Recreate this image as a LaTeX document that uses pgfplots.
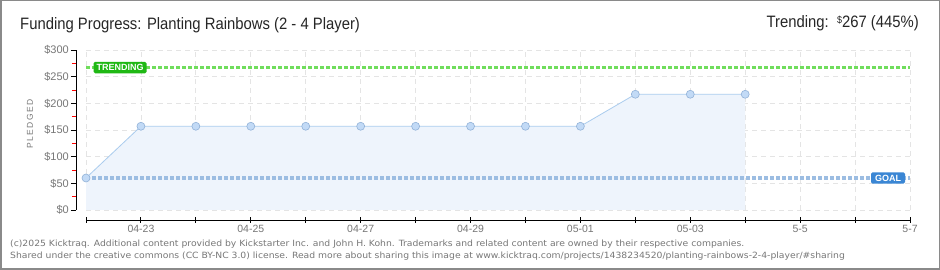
\documentclass[border=0pt]{standalone}
\usepackage{pgfplots}
\pgfplotsset{compat=1.18}
\usepackage{fontspec}
\setmainfont{Liberation Sans}
\newfontfamily\narrow[FakeStretch=0.9]{Liberation Sans}
\newfontfamily\foot[FakeStretch=1.075]{DejaVu Sans}
\definecolor{bordergray}{HTML}{8A8A8A}
\definecolor{gridc}{HTML}{E4E4E4}
\definecolor{areafill}{HTML}{EEF4FC}
\definecolor{linec}{HTML}{AACCEE}
\definecolor{markfill}{HTML}{C2DAF6}
\definecolor{markdraw}{HTML}{92B2D8}
\definecolor{trendc}{HTML}{70DD5C}
\definecolor{trendbox}{HTML}{1FB814}
\definecolor{goalc}{HTML}{9CBDE2}
\definecolor{goalbox}{HTML}{3A86D4}
\definecolor{labelgray}{HTML}{777777}
\definecolor{footgray}{HTML}{777777}
\begin{document}
\begin{tikzpicture}
\useasboundingbox (0,0) rectangle (940pt,270pt);
\fill[white] (0,0) rectangle (940pt,270pt);
\draw[bordergray, line width=1.5pt] (0.75pt,0.75pt) rectangle (939.25pt,269.25pt);

\begin{axis}[at={(86pt,60pt)}, anchor=south west, scale only axis,
  width=824pt, height=160pt, xmin=0, xmax=15, ymin=0, ymax=300,
  axis line style={draw=none}, major tick length=0pt,
  xtick={0,...,15}, ytick={0,50,...,300}, xticklabels={}, yticklabels={},
  grid=major, major grid style={gridc, line width=0.8pt, dash pattern=on 5pt off 4pt},
  clip=false]
\addplot[fill=areafill, draw=none] coordinates {
 (0,60) (1,157) (2,157) (3,157) (4,157) (5,157) (6,157) (7,157) (8,157) (9,157)
 (10,217) (11,217) (12,217)} \closedcycle;
\addplot[linec, line width=0.8pt] coordinates {
 (0,60) (1,157) (2,157) (3,157) (4,157) (5,157) (6,157) (7,157) (8,157) (9,157)
 (10,217) (11,217) (12,217)};
\addplot[trendc, line width=3.5pt, dash pattern=on 4pt off 2pt] coordinates {(0,267) (15,267)};
\addplot[goalc, line width=3.5pt, dash pattern=on 4pt off 2pt] coordinates {(0,60) (15,60)};
\addplot[only marks, mark=*, mark size=4pt, mark options={fill=markfill, draw=markdraw, line width=0.6pt}] coordinates {
 (0,60) (1,157) (2,157) (3,157) (4,157) (5,157) (6,157) (7,157) (8,157) (9,157)
 (10,217) (11,217) (12,217)};
\node[fill=trendbox, text=white, font=\fontsize{9}{9}\selectfont\bfseries, rounded corners=1.5pt, inner xsep=3pt, inner ysep=2.5pt] at (axis cs:0.62,267) {TRENDING};
\node[fill=goalbox, text=white, font=\fontsize{9}{9}\selectfont\bfseries, rounded corners=1.5pt, inner xsep=4pt, inner ysep=2.5pt] at (axis cs:14.6,60) {GOAL};
\end{axis}

\begin{axis}[at={(76pt,60pt)}, anchor=south west, scale only axis,
  width=10pt, height=160pt, xmin=0, xmax=1, ymin=0, ymax=300,
  axis y line=left, axis x line=none, axis line style={-, black, line width=0.9pt},
  ytick={0,50,...,300}, yticklabels={\$0,\$50,\$100,\$150,\$200,\$250,\$300},
  minor ytick={25,75,...,275},
  major tick style={black, line width=0.9pt}, minor tick style={red, line width=0.9pt},
  tick align=outside, major tick length=5pt, minor tick length=4pt,
  yticklabel style={font=\fontsize{11}{11}\selectfont, text=labelgray, inner sep=2pt}]
\end{axis}

\begin{axis}[at={(86pt,50pt)}, anchor=south west, scale only axis,
  width=824pt, height=10pt, xmin=0, xmax=15, ymin=0, ymax=1,
  axis x line=bottom, axis y line=none, axis line style={-, black, line width=0.9pt},
  xtick={0,...,15},
  xticklabels={,04-23,,04-25,,04-27,,04-29,,05-01,,05-03,,5-5,,5-7},
  major tick style={black, line width=0.9pt},
  tick align=center, major tick length=6pt,
  xticklabel style={font=\fontsize{10.5}{10.5}\selectfont, text=labelgray, inner sep=2pt}]
\end{axis}

\node[rotate=90, font=\fontsize{8.5}{8.5}\selectfont, text=labelgray] at (30pt,146pt) {P\,L\,E\,D\,G\,E\,D};

\node[anchor=base west, inner sep=0pt, font=\narrow\fontsize{16.5}{16.5}\selectfont, text=black!85] at (20pt,240pt) {Funding Progress: Planting Rainbows (2 - 4 Player)};
\node[anchor=base east, inner sep=0pt, font=\narrow\fontsize{16.5}{16.5}\selectfont, text=black!85] at (919pt,242pt) {Trending:\ \ \raisebox{0.55ex}{\fontsize{10}{10}\selectfont\$}267 (445\%)};

\node[anchor=base west, inner sep=0pt, font=\foot\fontsize{8.6}{8.6}\selectfont, text=footgray] at (10pt,23pt) {(c)2025 Kicktraq. Additional content provided by Kickstarter Inc. and John H. Kohn. Trademarks and related content are owned by their respective companies.};
\node[anchor=base west, inner sep=0pt, font=\foot\fontsize{8.6}{8.6}\selectfont, text=footgray] at (10pt,11pt) {Shared under the creative commons (CC BY-NC 3.0) license. Read more about sharing this image at www.kicktraq.com/projects/1438234520/planting-rainbows-2-4-player/\#sharing};
\end{tikzpicture}
\end{document}
